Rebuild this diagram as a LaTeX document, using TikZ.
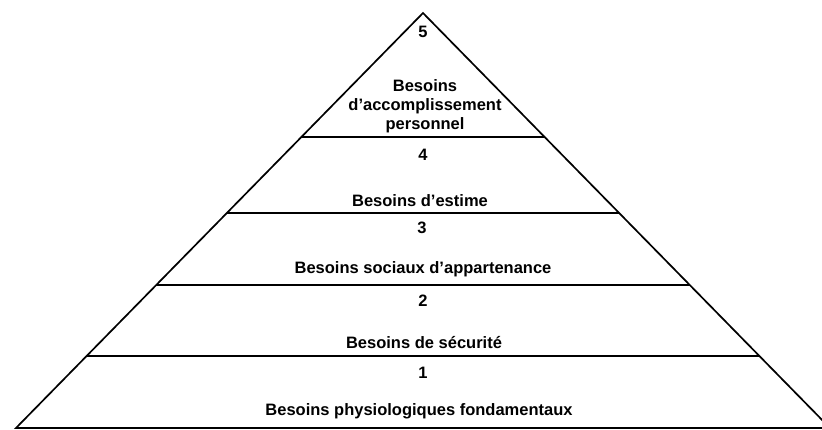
\documentclass[tikz,border=0pt]{standalone}
\usepackage{fontspec}
\setmainfont{Liberation Sans}
\usetikzlibrary{calc}

\begin{document}
\begin{tikzpicture}[
        x=1pt, y=-1pt,
        lato/.style={draw, line width=1.7pt},
        linea_livello/.style={draw, line width=1.5pt},
        num_livello/.style={anchor=base, font=\fontsize{16.5}{19}\selectfont\bfseries},
        testo_bisogno/.style={anchor=base, align=center, font=\fontsize{16.5}{19}\selectfont\bfseries}
        ]
    \useasboundingbox (0,0) rectangle (822,429);
    \clip (0,0) rectangle (822,429);
    \coordinate (apice) at (423,13);
    \coordinate (base_sx) at (16,428);
    \coordinate (base_dx) at (830,428);
    % piramide e livelli
    \draw[lato] (base_sx) -- (apice) -- (base_dx) -- cycle;
    \foreach \t in {0.2988, 0.4819, 0.6554, 0.8265}
        \draw[linea_livello] ($(apice)!\t!(base_sx)$) -- ($(apice)!\t!(base_dx)$);
    % testi
    \node[num_livello] (n5) at (423,37) {5};
    \node[testo_bisogno, anchor=center] (t5) at (425,106) {Besoins\\d’accomplissement\\personnel};
    \node[num_livello] (n4) at (423,160) {4};
    \node[testo_bisogno] (t4) at (420,206) {Besoins d’estime};
    \node[num_livello] (n3) at (422,233) {3};
    \node[testo_bisogno] (t3) at (423,273) {Besoins sociaux d’appartenance};
    \node[num_livello] (n2) at (423,306) {2};
    \node[testo_bisogno] (t2) at (424,348) {Besoins de sécurité};
    \node[num_livello] (n1) at (423,378) {1};
    \node[testo_bisogno] (t1) at (419,415) {Besoins physiologiques fondamentaux};
\end{tikzpicture}
\end{document}
